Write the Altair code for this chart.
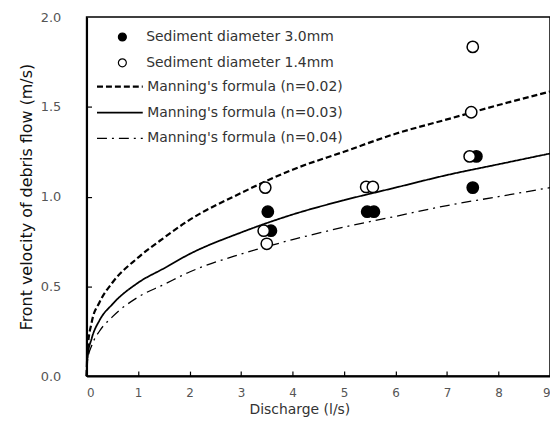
import altair as alt
import pandas as pd

# ---- data ----
x_curve = [0, 0.02, 0.1, 0.25, 0.5, 1, 1.5, 2, 3, 4, 5, 6, 7, 8, 9]
v_n002 = [0, 0.15, 0.30, 0.41, 0.52, 0.66, 0.77, 0.87, 1.02, 1.15, 1.25, 1.35, 1.43, 1.51, 1.585]
v_n003 = [0, 0.11, 0.21, 0.31, 0.40, 0.52, 0.60, 0.68, 0.80, 0.90, 0.98, 1.05, 1.12, 1.18, 1.24]
v_n004 = [0, 0.09, 0.17, 0.25, 0.33, 0.44, 0.51, 0.58, 0.68, 0.76, 0.83, 0.89, 0.95, 1.00, 1.05]

q_30 = [3.52, 3.58, 5.45, 5.58, 7.57, 7.50]
v_30 = [0.916, 0.81, 0.916, 0.916, 1.224, 1.05]
q_14 = [3.47, 3.44, 3.50, 5.43, 5.56, 7.50, 7.47, 7.44]
v_14 = [1.05, 0.81, 0.737, 1.054, 1.054, 1.834, 1.47, 1.224]

point_labels = ["Sediment diameter 3.0mm", "Sediment diameter 1.4mm"]
curve_labels = ["Manning's formula (n=0.02)", "Manning's formula (n=0.03)", "Manning's formula (n=0.04)"]
x_ticks = list(range(10))
y_ticks = [0, 0.5, 1.0, 1.5, 2.0]

# ---- tables ----
curves = pd.concat([
    pd.DataFrame({"q": x_curve, "v": vals, "curve": lab})
    for vals, lab in zip([v_n002, v_n003, v_n004], curve_labels)
], ignore_index=True)

points = pd.concat([
    pd.DataFrame({"q": q_30, "v": v_30, "series": point_labels[0]}),
    pd.DataFrame({"q": q_14, "v": v_14, "series": point_labels[1]}),
], ignore_index=True)

W, H = 466, 361
FONT = "DejaVu Sans"
xs = alt.Scale(domain=[0, 9], nice=False, zero=False)
ys = alt.Scale(domain=[0, 2], nice=False)

lines = alt.Chart(curves).mark_line(color="black", interpolate="monotone").encode(
    x=alt.X("q:Q", scale=xs, axis=alt.Axis(
        orient="bottom", values=x_ticks, format="d", title="Discharge (l/s)",
        ticks=False, tickSize=0, labelPadding=12, labelFontSize=12,
        domainWidth=2, domainColor="black",
        grid=False, titleX=214, titleY=34, titleBaseline="middle",
        titleFontSize=14, titleFontWeight="normal", titleColor="#333")),
    y=alt.Y("v:Q", scale=ys, axis=alt.Axis(
        orient="left", values=y_ticks, format=".1f",
        title="Front velocity of debris flow (m/s)",
        ticks=False, tickSize=0, labelPadding=26, domainWidth=2, domainColor="black",
        grid=False, titleX=-60, titleY=H / 2, titleBaseline="middle",
        titleFontSize=16, titleFontWeight="normal", titleColor="#111")),
    strokeDash=alt.StrokeDash("curve:N", scale=alt.Scale(
        domain=curve_labels, range=[[6, 3], [1, 0], [10, 5, 2, 5]]),
        legend=alt.Legend(orient="none", legendX=9, legendY=62, title=None,
                          symbolType="stroke", symbolSize=2116, clipHeight=16,
                          symbolStrokeColor="black", symbolStrokeWidth=1.8,
                          labelFont=FONT, labelFontSize=14, labelColor="#333",
                          labelLimit=0, labelOffset=3, rowPadding=10, padding=0)),
    strokeWidth=alt.StrokeWidth("curve:N", scale=alt.Scale(
        domain=curve_labels, range=[2.2, 1.3, 2.2]), legend=None),
)

pts = alt.Chart(points).mark_point(
    filled=True, shape="circle", size=130, stroke="black", strokeWidth=1.5, opacity=1
).encode(
    x=alt.X("q:Q", scale=xs, axis=alt.Axis(
        orient="top", offset=-H, values=x_ticks[1:-1], labels=False, domain=False,
        ticks=True, tickSize=5, tickWidth=1.2, tickColor="black", title=None, grid=False)),
    y=alt.Y("v:Q", scale=ys, axis=alt.Axis(
        orient="right", offset=-W, values=y_ticks[1:-1], labels=False, domain=False,
        ticks=True, tickSize=5, tickWidth=1.2, tickColor="black", title=None, grid=False)),
    fill=alt.Fill("series:N", scale=alt.Scale(domain=point_labels, range=["black", "white"]),
                  legend=alt.Legend(orient="none", legendX=29, legendY=13, title=None,
                                    symbolType="circle", symbolSize=64,
                                    symbolStrokeColor="black", symbolStrokeWidth=1.2,
                                    labelFont=FONT, labelFontSize=14, labelColor="#333",
                                    labelLimit=0, labelOffset=17, rowPadding=12, padding=0)),
)

chart = alt.layer(lines, pts).resolve_axis(
    x="independent", y="independent"
).properties(
    width=W, height=H,
    autosize=alt.AutoSizeParams(type="none"),
    padding={"left": 79, "top": 8, "right": 0, "bottom": 42},
).configure_view(
    stroke="black", strokeWidth=1.5
).configure_axis(
    labelFont=FONT, titleFont=FONT, labelFontSize=13, labelColor="#555"
)

chart.save("out.html", embed_options={"renderer": "svg", "actions": False})
